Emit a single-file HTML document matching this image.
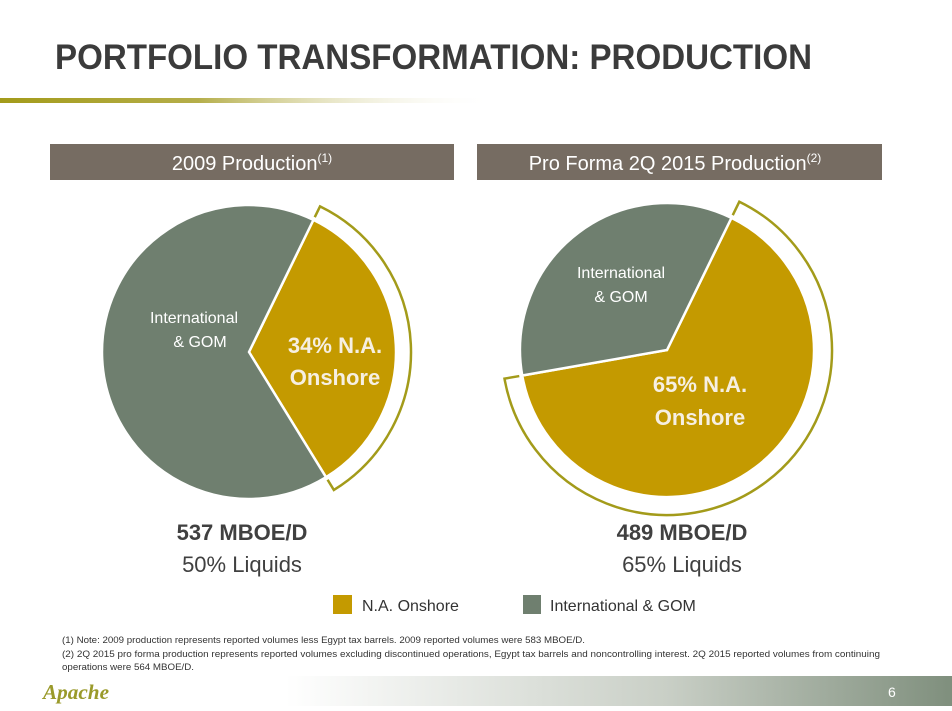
<!DOCTYPE html>
<html><head><meta charset="utf-8"><style>
html,body{margin:0;padding:0;background:#fff;}
svg{display:block;font-family:"Liberation Sans",sans-serif;}
</style></head><body>
<svg id="chart" width="952" height="711" viewBox="0 0 952 711" xmlns="http://www.w3.org/2000/svg">
<defs>
<linearGradient id="rule" x1="0" x2="0.52" y1="0" y2="0">
<stop offset="0" stop-color="#a39b1a"/><stop offset="0.4" stop-color="#b5ae4a"/><stop offset="1" stop-color="#ffffff" stop-opacity="0"/>
</linearGradient>
<linearGradient id="foot" x1="0" x2="1" y1="0" y2="0">
<stop offset="0" stop-color="#ffffff"/><stop offset="0.3" stop-color="#ffffff"/><stop offset="0.7" stop-color="#c9cfc6"/><stop offset="1" stop-color="#7f8f7d"/>
</linearGradient>
</defs>
<text x="55" y="69" font-size="35" font-weight="bold" fill="#3b3b3b" textLength="757" lengthAdjust="spacingAndGlyphs">PORTFOLIO TRANSFORMATION: PRODUCTION</text>
<rect x="0" y="98" width="952" height="5" fill="url(#rule)"/>
<rect x="50" y="144" width="404" height="36" fill="#766c62"/>
<text x="252" y="170" font-size="20" fill="#fff" text-anchor="middle">2009 Production<tspan font-size="12" dy="-8">(1)</tspan></text>
<rect x="477" y="144" width="405" height="36" fill="#766c62"/>
<text x="675" y="170" font-size="20" fill="#fff" text-anchor="middle">Pro Forma 2Q 2015 Production<tspan font-size="12" dy="-8">(2)</tspan></text>
<g id="pies"></g>
<text x="194" y="323" font-size="16" fill="#fff" text-anchor="middle">International</text>
<text x="200" y="347" font-size="16" fill="#fff" text-anchor="middle">&amp; GOM</text>
<text x="335" y="353" font-size="22" font-weight="bold" fill="#f6efe2" text-anchor="middle">34% N.A.</text>
<text x="335" y="385" font-size="22" font-weight="bold" fill="#f6efe2" text-anchor="middle">Onshore</text>
<text x="621" y="278" font-size="16" fill="#fff" text-anchor="middle">International</text>
<text x="621" y="302" font-size="16" fill="#fff" text-anchor="middle">&amp; GOM</text>
<text x="700" y="392" font-size="22" font-weight="bold" fill="#f6efe2" text-anchor="middle">65% N.A.</text>
<text x="700" y="425" font-size="22" font-weight="bold" fill="#f6efe2" text-anchor="middle">Onshore</text>
<text x="242" y="540" font-size="22" font-weight="bold" fill="#404040" text-anchor="middle">537 MBOE/D</text>
<text x="242" y="572" font-size="22" fill="#404040" text-anchor="middle">50% Liquids</text>
<text x="682" y="540" font-size="22" font-weight="bold" fill="#404040" text-anchor="middle">489 MBOE/D</text>
<text x="682" y="572" font-size="22" fill="#404040" text-anchor="middle">65% Liquids</text>
<rect x="333" y="595" width="19" height="19" fill="#c49a00"/>
<text x="362" y="611" font-size="16" fill="#333">N.A. Onshore</text>
<rect x="523" y="595" width="18" height="19" fill="#6f7f6f"/>
<text x="550" y="611" font-size="16" fill="#333">International &amp; GOM</text>
<g font-size="9.5" fill="#333">
<text x="62" y="643" textLength="523" lengthAdjust="spacingAndGlyphs">(1) Note: 2009 production represents reported volumes less Egypt tax barrels. 2009 reported volumes were 583 MBOE/D.</text>
<text x="62" y="657" textLength="818" lengthAdjust="spacingAndGlyphs">(2) 2Q 2015 pro forma production represents reported volumes excluding discontinued operations, Egypt tax barrels and noncontrolling interest.  2Q 2015 reported volumes from continuing</text>
<text x="62" y="670" textLength="132" lengthAdjust="spacingAndGlyphs">operations were 564 MBOE/D.</text>
</g>
<rect x="0" y="676" width="952" height="30" fill="url(#foot)"/>
<text x="43" y="699" font-size="21" font-weight="bold" font-style="italic" fill="#9a9a2a" font-family="Liberation Serif, serif" textLength="66" lengthAdjust="spacingAndGlyphs">Apache</text>
<text x="888" y="697" font-size="14" fill="#fff">6</text>
</svg>
<script>
const leftValues = [34, 66];
const rightValues = [65, 35];
const sliceColors = ['#c49a00', '#6f7f6f'];
const startDeg = 26;
const ns = 'http://www.w3.org/2000/svg';
const g = document.getElementById('pies');
function pt(cx, cy, r, deg) { const a = deg * Math.PI / 180; return [cx + r * Math.sin(a), cy - r * Math.cos(a)]; }
function drawPie(name, values, cx, cy, r, br) {
  const total = values.reduce((a, b) => a + b, 0);
  let ang = startDeg;
  values.forEach((v, i) => {
    const sweep = v / total * 360;
    const p1 = pt(cx, cy, r, ang), p2 = pt(cx, cy, r, ang + sweep);
    const path = document.createElementNS(ns, 'path');
    path.setAttribute('d', `M${cx},${cy} L${p1[0]},${p1[1]} A${r},${r} 0 ${sweep > 180 ? 1 : 0} 1 ${p2[0]},${p2[1]} Z`);
    path.setAttribute('fill', sliceColors[i]);
    path.setAttribute('stroke', '#fff');
    path.setAttribute('stroke-width', '2.5');
    
    
    g.appendChild(path);
    if (i === 0) {
      const q0 = pt(cx, cy, r + 3, ang), q1 = pt(cx, cy, br, ang), q2 = pt(cx, cy, br, ang + sweep), q3 = pt(cx, cy, r + 3, ang + sweep);
      const b = document.createElementNS(ns, 'path');
      b.setAttribute('d', `M${q0[0]},${q0[1]} L${q1[0]},${q1[1]} A${br},${br} 0 ${sweep > 180 ? 1 : 0} 1 ${q2[0]},${q2[1]} L${q3[0]},${q3[1]}`);
      b.setAttribute('fill', 'none');
      b.setAttribute('stroke', '#a39b1a');
      b.setAttribute('stroke-width', '2.5');
      
      
      g.appendChild(b);
    }
    ang += sweep;
  });
}
drawPie('left-pie', leftValues, 249, 352, 147, 162);
drawPie('right-pie', rightValues, 667, 350, 147, 165);
</script>
</body></html>
